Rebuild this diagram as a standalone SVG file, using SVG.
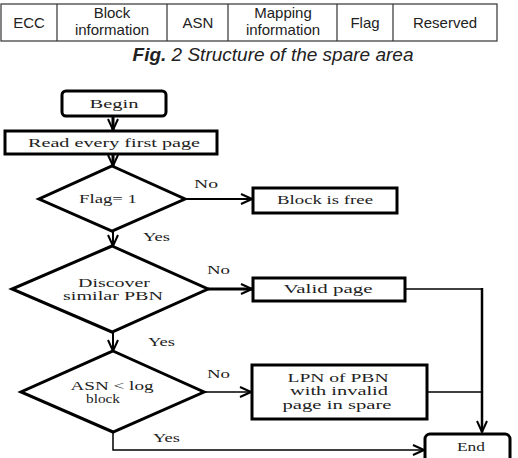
<svg xmlns="http://www.w3.org/2000/svg" width="518" height="458" viewBox="0 0 518 458">
<defs>
<marker id="arr" markerUnits="userSpaceOnUse" markerWidth="14" markerHeight="14" viewBox="0 0 14 14" refX="13" refY="7" orient="auto">
<path d="M2,2 L13,7 L2,12" fill="none" stroke="#000" stroke-width="2"/>
</marker>
</defs>
<style>
.tb{fill:none;stroke:#333;stroke-width:1.2}
.tt{font-family:"Liberation Sans",Arial,sans-serif;font-size:15px;fill:#222;text-anchor:middle}
.cap{font-family:"Liberation Sans",Arial,sans-serif;font-size:19px;font-style:italic;fill:#222;text-anchor:middle}
.bx{fill:#fff;stroke:#000;stroke-width:3}
.dm{fill:#fff;stroke:#000;stroke-width:3;stroke-linejoin:miter}
.ft{font-family:"Liberation Serif","Times New Roman",serif;font-size:12px;fill:#222;text-anchor:middle}
.lb{font-family:"Liberation Serif","Times New Roman",serif;font-size:12px;fill:#222}
.cn{fill:none;stroke:#000}
</style>
<g id="table">
<rect class="tb" x="1" y="4" width="496" height="37"/>
<path class="tb" d="M57,4V41M167,4V41M228,4V41M337,4V41M393,4V41"/>
<text class="tt" x="29" y="28">ECC</text>
<text class="tt" x="112" y="18">Block</text>
<text class="tt" x="112" y="35">information</text>
<text class="tt" x="198" y="28">ASN</text>
<text class="tt" x="283" y="18">Mapping</text>
<text class="tt" x="283" y="35">information</text>
<text class="tt" x="365" y="28">Flag</text>
<text class="tt" x="445" y="28">Reserved</text>
<text class="cap" x="273" y="61"><tspan font-weight="bold">Fig.</tspan> 2 Structure of the spare area</text>
</g>
<g id="connectors">
<path class="cn" stroke-width="3" d="M113,116V130" marker-end="url(#arr)"/>
<path class="cn" stroke-width="3" d="M113,154V166" marker-end="url(#arr)"/>
<path class="cn" stroke-width="2" d="M185,199H252" marker-end="url(#arr)"/>
<path class="cn" stroke-width="2" d="M113,231V246" marker-end="url(#arr)"/>
<path class="cn" stroke-width="3" d="M208,289H252" marker-end="url(#arr)"/>
<path class="cn" stroke-width="2" d="M113,332V351" marker-end="url(#arr)"/>
<path class="cn" stroke-width="1.5" d="M204,392H251" marker-end="url(#arr)"/>
<path class="cn" stroke-width="1.5" d="M405,289H482"/>
<path class="cn" stroke-width="2.5" d="M482,288V432" marker-end="url(#arr)"/>
<path class="cn" stroke-width="1.5" d="M427,392H482"/>
<path class="cn" stroke-width="1.5" d="M113,432V450H424" marker-end="url(#arr)"/>
<text class="lb" x="194" y="188" textLength="24" lengthAdjust="spacingAndGlyphs">No</text>
<text class="lb" x="143" y="241" textLength="27" lengthAdjust="spacingAndGlyphs">Yes</text>
<text class="lb" x="207" y="274" textLength="23" lengthAdjust="spacingAndGlyphs">No</text>
<text class="lb" x="148" y="346" textLength="27" lengthAdjust="spacingAndGlyphs">Yes</text>
<text class="lb" x="207" y="378" textLength="23" lengthAdjust="spacingAndGlyphs">No</text>
<text class="lb" x="153" y="442" textLength="27" lengthAdjust="spacingAndGlyphs">Yes</text>
</g>
<g id="begin">
<rect class="bx" x="62" y="91" width="104" height="25" rx="4"/>
<text class="ft" x="114" y="108" textLength="49" lengthAdjust="spacingAndGlyphs">Begin</text>
</g>
<g id="read">
<rect class="bx" x="5" y="131" width="212" height="23"/>
<text class="ft" x="114" y="147" textLength="172" lengthAdjust="spacingAndGlyphs">Read every first page</text>
</g>
<g id="flag">
<polygon class="dm" points="112,166 185,199 112,231 39,199"/>
<text class="ft" x="108" y="203" textLength="58" lengthAdjust="spacingAndGlyphs">Flag= 1</text>
</g>
<g id="free">
<rect class="bx" x="253" y="188" width="144" height="25"/>
<text class="ft" x="325" y="204" textLength="96" lengthAdjust="spacingAndGlyphs">Block is free</text>
</g>
<g id="discover">
<polygon class="dm" points="112,246 208,289 112,332 12,289"/>
<text class="ft" x="114" y="287" textLength="72" lengthAdjust="spacingAndGlyphs">Discover</text>
<text class="ft" x="113" y="300" textLength="100" lengthAdjust="spacingAndGlyphs">similar PBN</text>
</g>
<g id="valid">
<rect class="bx" x="253" y="278" width="152" height="23"/>
<text class="ft" x="328" y="293" textLength="89" lengthAdjust="spacingAndGlyphs">Valid page</text>
</g>
<g id="asn">
<polygon class="dm" points="113,351 204,392 113,432 21,392"/>
<text class="ft" x="112" y="390" textLength="83" lengthAdjust="spacingAndGlyphs">ASN &lt; log</text>
<text class="ft" x="103" y="403" textLength="34" lengthAdjust="spacingAndGlyphs">block</text>
</g>
<g id="lpn">
<rect class="bx" x="252" y="365" width="175" height="54"/>
<text class="ft" x="338" y="382" textLength="101" lengthAdjust="spacingAndGlyphs">LPN of PBN</text>
<text class="ft" x="339" y="395" textLength="98" lengthAdjust="spacingAndGlyphs">with invalid</text>
<text class="ft" x="337" y="409" textLength="109" lengthAdjust="spacingAndGlyphs">page in spare</text>
</g>
<g id="end">
<rect class="bx" x="425" y="434" width="85" height="40" rx="5"/>
<text class="ft" x="471" y="451" textLength="28" lengthAdjust="spacingAndGlyphs">End</text>
</g>
</svg>
